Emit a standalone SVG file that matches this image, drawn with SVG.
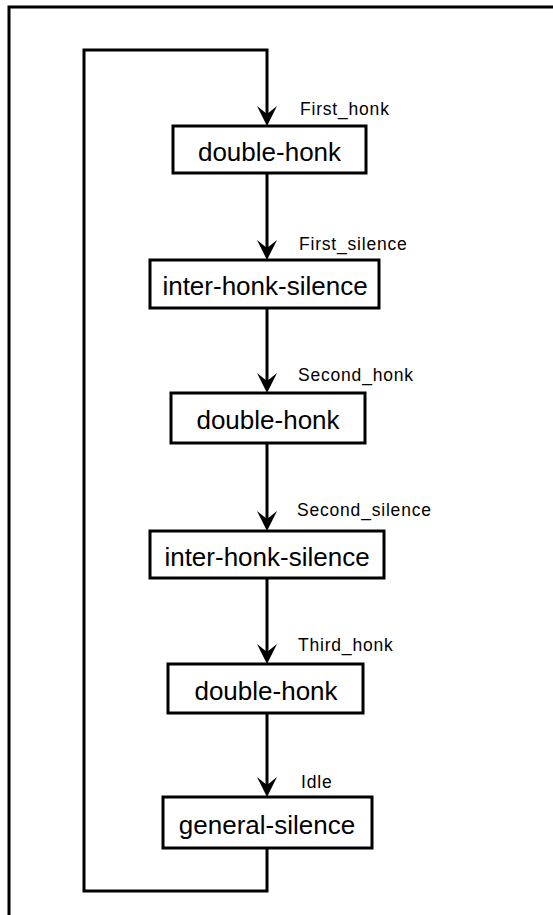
<svg xmlns="http://www.w3.org/2000/svg" width="553" height="915" viewBox="0 0 553 915">
  <style>
    .frame { fill: none; stroke: #000; stroke-width: 3; }
    .box { fill: #fff; stroke: #000; stroke-width: 3; }
    .wire { fill: none; stroke: #000; stroke-width: 3; stroke-linejoin: miter; }
    .state { font-family: "Liberation Sans", Arial, sans-serif; font-size: 26px; fill: #000; text-anchor: middle; }
    .event { font-family: "Liberation Sans", Arial, sans-serif; font-size: 17.5px; letter-spacing: 0.8px; fill: #000; }
  </style>
  <defs>
    <!-- barbed arrowhead, tip at the origin, pointing down -->
    <path id="head" d="M0,0 L-10,-20 L0,-12 L10,-20 Z" fill="#000"/>
  </defs>

  <rect width="553" height="915" fill="#fff"/>

  <!-- page border (top and left edges) -->
  <path class="frame" d="M9,915 L9,7 L553,7"/>

  <!-- transitions -->
  <g id="connectors">
    <!-- loop back from general-silence to the first double-honk -->
    <path class="wire" d="M267,848 L267,891 L84,891 L84,50 L267,50 L267,122"/>
    <use href="#head" x="267" y="126"/>
    <path class="wire" d="M267,173 L267,256"/>
    <use href="#head" x="267" y="260"/>
    <path class="wire" d="M267,308 L267,389"/>
    <use href="#head" x="267" y="393"/>
    <path class="wire" d="M267,443 L267,527"/>
    <use href="#head" x="267" y="531"/>
    <path class="wire" d="M267,578 L267,660"/>
    <use href="#head" x="267" y="664"/>
    <path class="wire" d="M267,713 L267,793"/>
    <use href="#head" x="267" y="797"/>

    <text class="event" x="300" y="115">First_honk</text>
    <text class="event" x="299" y="250">First_silence</text>
    <text class="event" x="298" y="381">Second_honk</text>
    <text class="event" x="297" y="516">Second_silence</text>
    <text class="event" x="298" y="651">Third_honk</text>
    <text class="event" x="301" y="788">Idle</text>
  </g>

  <g id="state-first-honk">
    <rect class="box" x="173" y="126" width="193" height="47"/>
    <text class="state" x="269.5" y="161">double-honk</text>
  </g>

  <g id="state-first-silence">
    <rect class="box" x="150" y="260" width="229" height="48"/>
    <text class="state" x="265" y="295">inter-honk-silence</text>
  </g>

  <g id="state-second-honk">
    <rect class="box" x="171" y="393" width="194" height="50"/>
    <text class="state" x="268" y="429">double-honk</text>
  </g>

  <g id="state-second-silence">
    <rect class="box" x="150" y="531" width="234" height="47"/>
    <text class="state" x="267" y="566">inter-honk-silence</text>
  </g>

  <g id="state-third-honk">
    <rect class="box" x="168" y="664" width="195" height="49"/>
    <text class="state" x="266" y="700">double-honk</text>
  </g>

  <g id="state-idle">
    <rect class="box" x="163" y="797" width="209" height="51"/>
    <text class="state" x="267" y="834">general-silence</text>
  </g>
</svg>
